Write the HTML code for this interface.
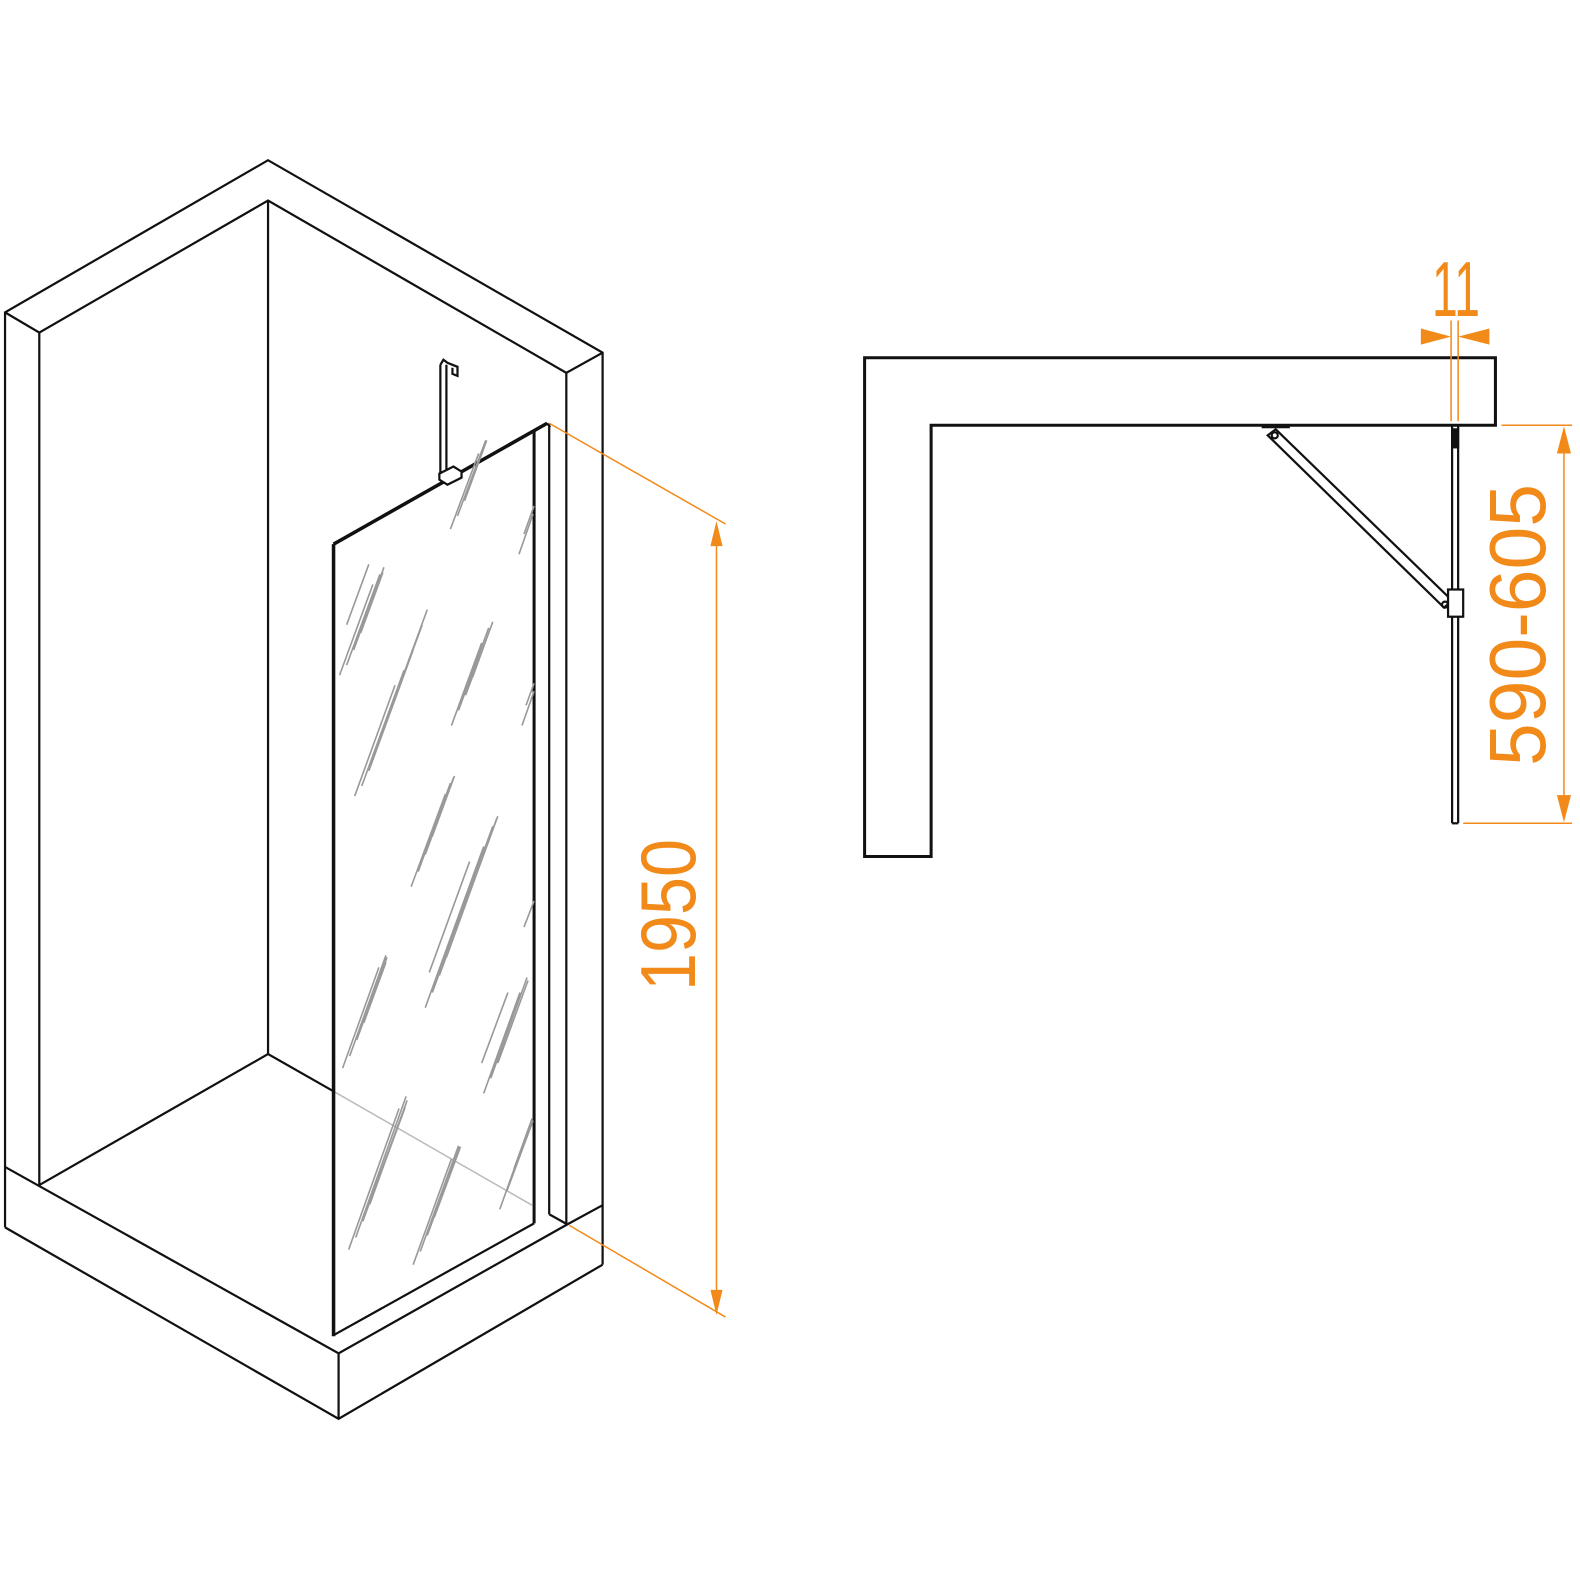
<!DOCTYPE html>
<html><head><style>html,body{margin:0;padding:0;background:#fff}svg{display:block}</style></head>
<body>
<svg width="1580" height="1580" viewBox="0 0 1580 1580" xmlns="http://www.w3.org/2000/svg">
<g transform="scale(1.0077)" fill="none" stroke="#111" stroke-width="2.2" stroke-linejoin="miter">
<polyline points="5,1218 5,310 266,159 598,350 598,1255"/>
<polyline points="5,310 39,330 266,199 562,370 598,350"/>
<line x1="39" y1="330" x2="39" y2="1176"/>
<line x1="266" y1="199" x2="266" y2="1046"/>
<line x1="562" y1="370" x2="562" y2="1215"/>
<polyline points="39,1176 266,1046 331,1083"/>
<line x1="331" y1="1083" x2="528" y2="1196" stroke="#bbb" stroke-width="1.5"/>
<polyline points="5,1158 336,1343 563,1215 598,1196"/>
<polyline points="5,1218 336,1408 598,1255"/>
<line x1="336" y1="1343" x2="336" y2="1408"/>
<line x1="545" y1="1205" x2="563" y2="1215"/>
<line x1="530" y1="428" x2="530" y2="1214" stroke-width="3"/>
<line x1="545" y1="421" x2="545" y2="1205"/>
<line x1="331" y1="1325" x2="530" y2="1214" stroke-width="2.2"/>
<line x1="331" y1="540" x2="331" y2="1326" stroke-width="3.5"/>
<line x1="331" y1="540" x2="543" y2="420" stroke-width="3.5"/>
<line x1="543" y1="420" x2="546" y2="424"/>
<line x1="437" y1="362" x2="437" y2="470" stroke-width="2.2"/>
<line x1="443" y1="362" x2="443" y2="468" stroke-width="2.2"/>
<polyline points="437,362 440,357 444,360 454,364 454,373 449,371 449,365"/>
<polygon points="436,470 450,463 458,468 458,474 444,481 436,476" fill="#fff" stroke-width="2.2"/>
<g stroke="#999" stroke-width="1.6">
<path d="M337 670 l33 -90 M344 660 l33 -90 M351 645 l30 -82 M358 628 l22 -60 M344 620 l22 -60"/>
<path d="M352 790 l40 -110 M359 780 l42 -115 M366 765 l44 -120 M373 745 l46 -125 M380 725 l44 -120"/>
<path d="M448 720 l30 -82 M455 705 l30 -82 M462 690 l26 -70 M469 672 l20 -55"/>
<path d="M408 880 l34 -92 M415 865 l32 -88 M422 848 l28 -76 M429 830 l22 -60"/>
<path d="M422 1000 l58 -160 M429 985 l60 -165 M436 968 l58 -158 M443 950 l50 -138 M426 965 l40 -110"/>
<path d="M340 1060 l36 -100 M347 1048 l36 -100 M354 1032 l30 -82 M361 1015 l22 -60"/>
<path d="M480 1085 l36 -100 M487 1070 l36 -100 M494 1055 l30 -82 M478 1055 l26 -70"/>
<path d="M346 1240 l50 -140 M353 1228 l50 -140 M360 1212 l44 -120 M367 1195 l36 -100 M374 1175 l28 -76"/>
<path d="M410 1255 l38 -105 M417 1242 l38 -105 M424 1226 l32 -88 M431 1208 l26 -70"/>
<path d="M496 1200 l32 -90 M503 1182 l26 -70 M510 1160 l18 -50"/>
<path d="M447 525 l28 -75 M454 512 l28 -75 M461 497 l22 -60"/>
<path d="M515 550 l14 -40 M520 530 l10 -28"/>
<path d="M518 720 l12 -34 M522 700 l8 -22"/>
<path d="M520 920 l10 -26"/>
</g>
<polygon points="858,355 1484,355 1484,422 924,422 924,850 858,850" stroke-width="3"/>
<line x1="1441" y1="422" x2="1441" y2="817"/>
<line x1="1447" y1="422" x2="1447" y2="817"/>
<line x1="1441" y1="817" x2="1447" y2="817"/>
<rect x="1440" y="425" width="8" height="20" fill="#111" stroke="none"/>
<rect x="1252" y="421" width="28" height="4" fill="#111" stroke="none"/>
<polygon points="1258,432 1266,426 1441,596 1433,603" fill="#fff" stroke-width="2.2"/>
<circle cx="1265" cy="432" r="3"/>
<circle cx="1434" cy="600" r="3"/>
<rect x="1437" y="585" width="15" height="27" fill="#fff" stroke-width="2.2"/>
</g>
<g transform="scale(1.0077)" stroke="#f28a1a" fill="#f28a1a" stroke-width="1.5">
<line x1="545" y1="420" x2="720" y2="520"/>
<line x1="565" y1="1216" x2="720" y2="1307"/>
<line x1="711" y1="530" x2="711" y2="1292"/>
<polygon points="711,517 705,542 717,542" stroke="none"/>
<polygon points="711,1305 705,1280 717,1280" stroke="none"/>
<line x1="1440" y1="318" x2="1440" y2="418"/>
<line x1="1447" y1="318" x2="1447" y2="418"/>
<polygon points="1410,326 1440,334 1410,342" stroke="none"/>
<polygon points="1478,326 1447,334 1478,342" stroke="none"/>
<line x1="1490" y1="422" x2="1560" y2="422"/>
<line x1="1452" y1="817" x2="1560" y2="817"/>
<line x1="1552" y1="440" x2="1552" y2="800"/>
<polygon points="1552,423 1545,450 1559,450" stroke="none"/>
<polygon points="1552,816 1545,789 1559,789" stroke="none"/>
</g>
<g fill="#f28a1a" font-family="Liberation Sans, sans-serif">
<text transform="translate(695,915) rotate(-90)" font-size="78" text-anchor="middle" textLength="152" lengthAdjust="spacingAndGlyphs">1950</text>
<text x="1456" y="316" font-size="78" text-anchor="middle" textLength="48" lengthAdjust="spacingAndGlyphs">11</text>
<text transform="translate(1545,625) rotate(-90)" font-size="80" text-anchor="middle" textLength="282" lengthAdjust="spacingAndGlyphs">590-605</text>
</g>
</svg>
</body></html>
